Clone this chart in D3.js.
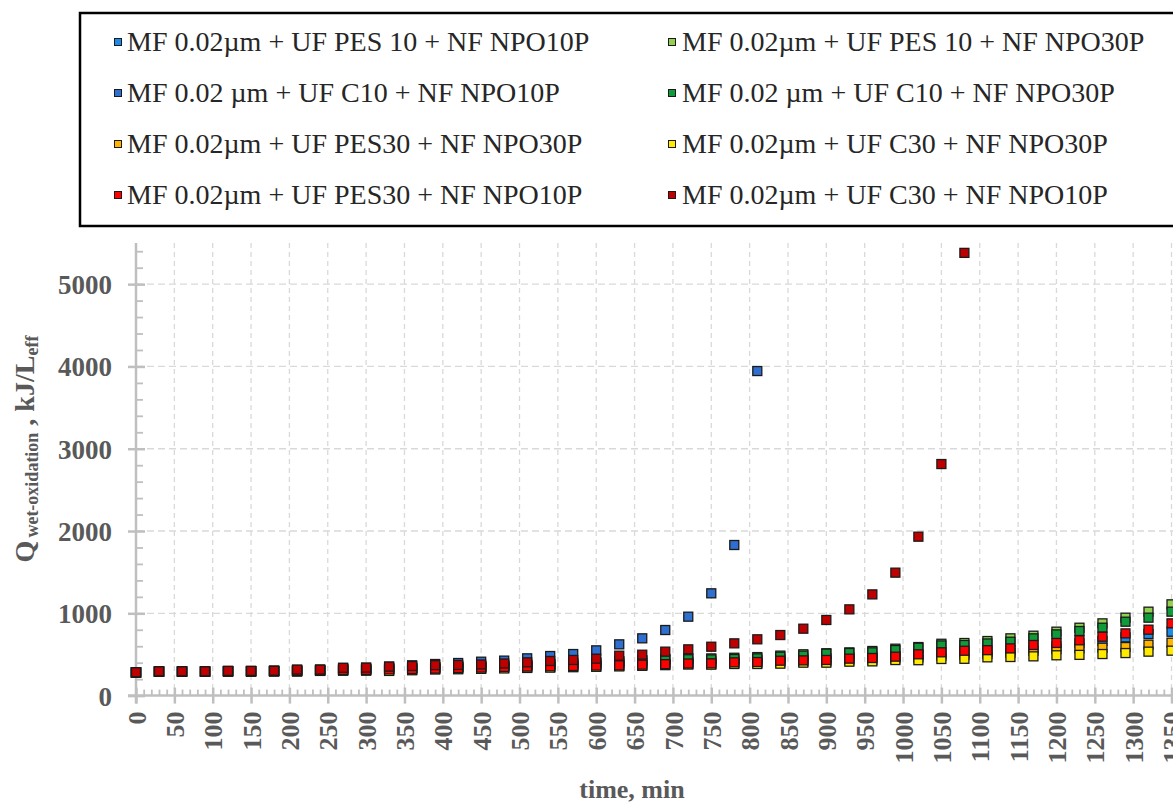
<!DOCTYPE html>
<html>
<head>
<meta charset="utf-8">
<script src="https://cdn.jsdelivr.net/npm/d3@7"></script>
<style>
  html, body { margin: 0; padding: 0; background: #fff; }
  svg { display: block; }
</style>
</head>
<body>
<svg id="chart" width="1173" height="805"></svg>
<script>
// ---------- DATA ----------
const times = d3.range(0, 1351, 30); // 0..1350 min, every 30 min

const seriesNames = [
  "MF 0.02\u00b5m + UF PES 10 + NF NPO10P",
  "MF 0.02\u00b5m + UF PES 10 + NF NPO30P",
  "MF 0.02 \u00b5m + UF C10 + NF NPO10P",
  "MF 0.02 \u00b5m + UF C10 + NF NPO30P",
  "MF 0.02\u00b5m + UF PES30 + NF NPO30P",
  "MF 0.02\u00b5m + UF C30 + NF NPO30P",
  "MF 0.02\u00b5m + UF PES30 + NF NPO10P",
  "MF 0.02\u00b5m + UF C30 + NF NPO10P"
];
const seriesColors = ["#1c8ae6", "#92d050", "#2f6fcf", "#119a3a", "#ffb400", "#ffea00", "#ff0000", "#c00000"];

const pes10_npo10 = [282,292,292,292,296,296,298,302,306,315,318,325,330,338,345,350,358,364,370,376,382,388,395,402,410,416,424,432,440,448,455,462,470,480,492,505,520,535,552,575,605,635,665,708,748,776];
const pes10_npo30 = [283,294,294,294,298,298,300,306,311,322,324,332,338,346,352,358,366,375,384,394,405,418,430,445,455,452,460,468,486,502,514,525,542,570,590,630,639,663,696,728,777,825,878,947,1020,1109];
const c10_npo10   = [280,290,292,292,298,298,300,312,315,335,338,352,368,384,396,412,425,453,481,505,550,623,696,797,959,1243,1830,3944];
const c10_npo30   = [283,294,294,294,298,298,300,305,310,320,322,330,336,344,350,356,364,372,380,390,400,412,425,440,442,440,445,453,473,486,510,518,526,554,582,610,615,634,655,696,744,785,825,898,947,1020];
const pes30_npo30 = [281,291,291,291,294,294,296,296,302,306,307,308,314,322,327,332,338,343,347,352,357,361,368,375,383,384,393,396,405,413,416,430,436,452,465,485,495,508,520,545,565,575,582,590,619,643];
const c30_npo30   = [280,290,290,290,292,292,294,292,300,303,303,300,308,318,320,325,330,336,340,345,350,355,362,370,378,376,384,384,388,400,400,412,416,432,430,445,447,465,469,477,490,495,505,517,534,546];
const pes30_npo10 = [283,293,293,293,296,296,298,300,305,310,312,318,322,328,335,340,348,352,356,360,365,368,376,382,390,392,404,408,424,428,433,449,457,473,502,526,545,552,574,615,640,672,716,756,801,878];
const c30_npo10   = [283,295,295,295,300,300,302,316,316,338,340,352,360,370,372,378,390,404,421,433,449,485,497,534,562,594,635,684,736,813,919,1048,1230,1494,1931,2814,5380];

const seriesValues = [pes10_npo10, pes10_npo30, c10_npo10, c10_npo30, pes30_npo30, c30_npo30, pes30_npo10, c30_npo10];

const xMajorTicks = d3.range(0, 1351, 50);
const xMinorTicks = d3.range(0, 1351, 10).filter(v => v % 50 !== 0);
const yMajorTicks = [0, 1000, 2000, 3000, 4000, 5000];
const yMinorTicks = d3.range(0, 5501, 200).filter(v => v % 1000 !== 0);

// ---------- LAYOUT ----------
const svg = d3.select("#chart");
const W = 1173, H = 805;
svg.append("rect").attr("width", W).attr("height", H).attr("fill", "#fff");

const x = d3.scaleLinear().domain([0, 1350]).range([136, 1171.5]);
const y = d3.scaleLinear().domain([0, 5500]).range([695.6, 243]);

const axisColor = "#bfbfbf";
const labelColor = "#595959";
const serif = "'Liberation Serif', 'Times New Roman', Times, serif";

// gridlines
const grid = svg.append("g");
grid.selectAll("line.vg").data(xMajorTicks.filter(d => d > 0)).join("line")
  .attr("x1", d => x(d)).attr("x2", d => x(d))
  .attr("y1", y(5500)).attr("y2", y(0))
  .attr("stroke", "#d9d9d9").attr("stroke-width", 1.3).attr("stroke-dasharray", "5,4");
grid.selectAll("line.hg").data(yMajorTicks.filter(d => d > 0)).join("line")
  .attr("x1", x(0)).attr("x2", W)
  .attr("y1", d => y(d)).attr("y2", d => y(d))
  .attr("stroke", "#d9d9d9").attr("stroke-width", 1.3).attr("stroke-dasharray", "7,4");

// x axis
const xAxisG = svg.append("g").attr("transform", `translate(0,${y(0)})`);
xAxisG.call(d3.axisBottom(x).tickValues(xMajorTicks).tickSize(8).tickFormat(d3.format("d")));
const xMinorG = svg.append("g").attr("transform", `translate(0,${y(0)})`);
xMinorG.call(d3.axisBottom(x).tickValues(xMinorTicks).tickSize(-6).tickFormat(""));
xMinorG.select(".domain").remove();
xAxisG.select(".domain").attr("d", `M${x(0) - 8},0H${W}`).attr("stroke", axisColor).attr("stroke-width", 2.5);
xAxisG.selectAll(".tick line").attr("y1", -8).attr("y2", 8).attr("stroke", axisColor).attr("stroke-width", 2.5);
xMinorG.selectAll(".tick line").attr("stroke", axisColor).attr("stroke-width", 1.8);
xAxisG.selectAll(".tick text")
  .attr("transform", "rotate(-90)")
  .attr("x", -16).attr("y", 0).attr("dy", "0.35em")
  .attr("text-anchor", "end")
  .attr("fill", labelColor)
  .style("font-family", serif).style("font-size", "26px").style("font-weight", "bold");

// y axis
const yAxisG = svg.append("g").attr("transform", `translate(${x(0)},0)`);
yAxisG.call(d3.axisLeft(y).tickValues(yMajorTicks).tickSize(8).tickFormat(d3.format("d")));
const yMinorG = svg.append("g").attr("transform", `translate(${x(0)},0)`);
yMinorG.call(d3.axisLeft(y).tickValues(yMinorTicks).tickSize(-7).tickFormat(""));
yMinorG.select(".domain").remove();
yAxisG.select(".domain").attr("d", `M0,${y(5500)}V${y(0) + 8}`).attr("stroke", axisColor).attr("stroke-width", 2.5);
yAxisG.selectAll(".tick line").attr("x1", -8).attr("x2", 9).attr("stroke", axisColor).attr("stroke-width", 2.5);
yMinorG.selectAll(".tick line").attr("stroke", axisColor).attr("stroke-width", 1.8);
yAxisG.selectAll(".tick text")
  .attr("x", -24).attr("dy", "0.35em")
  .attr("fill", labelColor)
  .style("font-family", serif).style("font-size", "27px").style("font-weight", "bold");

// axis titles
svg.append("text")
  .attr("x", 632).attr("y", 798)
  .attr("text-anchor", "middle")
  .attr("fill", labelColor)
  .style("font-family", serif).style("font-size", "26px").style("font-weight", "bold")
  .text("time, min");

const yTitle = svg.append("text")
  .attr("transform", "translate(34,449) rotate(-90)")
  .attr("text-anchor", "middle")
  .attr("fill", labelColor)
  .style("font-family", serif).style("font-size", "28px").style("font-weight", "bold");
yTitle.append("tspan").text("Q");
yTitle.append("tspan").attr("dx", 3).attr("dy", 4).style("font-size", "18px").text("wet-oxidation");
yTitle.append("tspan").attr("dy", -4).text(" , kJ/L");
yTitle.append("tspan").attr("dy", 4).style("font-size", "18px").text("eff");

// data markers
const mSize = 9;
const plot = svg.append("g");
seriesValues.forEach((vals, si) => {
  const pts = vals.map((v, i) => ({ t: times[i], v }));
  plot.append("g").selectAll("rect").data(pts).join("rect")
    .attr("x", d => x(d.t) - mSize / 2)
    .attr("y", d => y(d.v) - mSize / 2)
    .attr("width", mSize).attr("height", mSize)
    .attr("fill", seriesColors[si])
    .attr("stroke", "#1a1a1a").attr("stroke-width", 1.3);
});

// legend
const lg = svg.append("g");
lg.append("rect").attr("x", 80).attr("y", 13).attr("width", 1200).attr("height", 213)
  .attr("fill", "#fff").attr("stroke", "#000").attr("stroke-width", 2.5);
const rowCenters = [42, 93, 144, 195];
const colMarkerX = [118, 672];
const colTextX = [127, 682];
seriesNames.forEach((name, i) => {
  const row = Math.floor(i / 2), col = i % 2;
  const cy = rowCenters[row];
  lg.append("rect")
    .attr("x", colMarkerX[col] - 3.5).attr("y", cy - 3.5)
    .attr("width", 7).attr("height", 7)
    .attr("fill", seriesColors[i]).attr("stroke", "#1a1a1a").attr("stroke-width", 1);
  lg.append("text")
    .attr("x", colTextX[col]).attr("y", cy).attr("dy", "0.33em")
    .attr("fill", "#262626")
    .style("font-family", serif).style("font-size", "28px")
    .text(name);
});
</script>
</body>
</html>
